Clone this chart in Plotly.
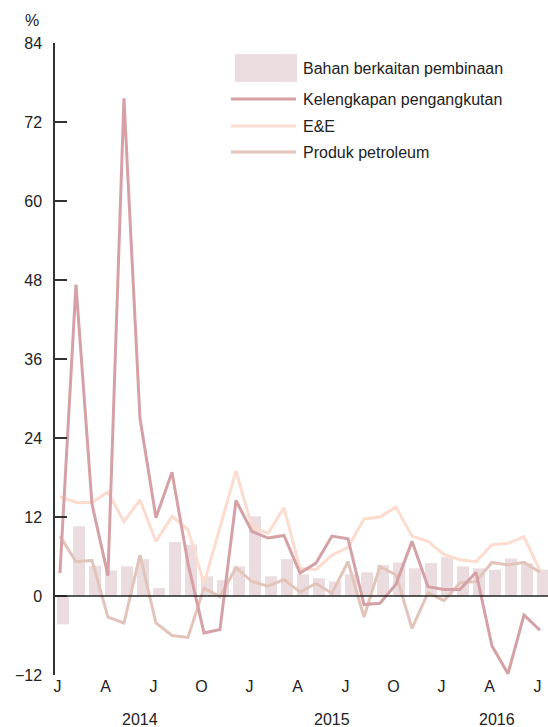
import plotly.graph_objects as go

# Monthly data, Jan 2014 .. Jul 2016 (31 months), % yoy
month_letters = ["J", "A", "J", "O", "J", "A", "J", "O", "J", "A", "J"]
years = ["2014", "2015", "2016"]
series_names = ["Bahan berkaitan pembinaan", "Kelengkapan pengangkutan", "E&E", "Produk petroleum"]

bahan = [-4.3, 10.6, 4.6, 3.9, 4.5, 5.6, 1.2, 8.2, 7.8, 3.0, 2.4, 4.5, 12.1, 3.0, 5.6, 3.3,
         2.7, 2.2, 3.3, 3.6, 4.7, 5.1, 4.2, 5.0, 5.9, 4.5, 4.2, 4.0, 5.7, 5.0, 4.0]
kelengkapan = [3.5, 47.3, 14.0, 3.1, 75.6, 27.0, 11.9, 18.8, 5.0, -5.6, -5.1, 14.5, 9.8, 8.8, 9.2, 3.5,
               5.0, 9.1, 8.7, -1.3, -1.1, 1.8, 8.3, 1.4, 1.0, 1.0, 3.6, -7.6, -11.8, -2.9, -5.2]
ee = [15.1, 14.2, 14.2, 15.8, 11.3, 14.6, 8.3, 12.1, 10.1, 1.9, 10.4, 19.0, 10.5, 9.5, 13.4, 4.2,
      4.0, 6.2, 7.4, 11.7, 12.0, 13.5, 9.1, 8.3, 6.3, 5.5, 5.2, 7.8, 8.0, 9.0, 3.8]
petroleum = [9.1, 5.2, 5.4, -3.2, -4.1, 6.2, -4.1, -6.0, -6.3, 1.2, -0.1, 4.3, 2.2, 1.5, 2.5, 0.6,
             1.9, 0.4, 5.2, -3.2, 4.5, 3.2, -4.9, 0.5, -0.7, 2.0, 2.2, 5.1, 4.7, 5.1, 3.6]

colors = ["#ebdddf", "#d5a1a6", "#fddcd0", "#e2c4ba"]
FONT = "Liberation Sans, Arial, sans-serif"
FS = 16

n = len(bahan)
x = list(range(n))
xbar = [i + 0.19 for i in x]

fig = go.Figure()
fig.add_trace(go.Bar(x=xbar, y=bahan, name=series_names[0], marker_color=colors[0],
                     marker_line_width=0, width=0.75))
for name, vals, col in [(series_names[2], ee, colors[2]),
                        (series_names[3], petroleum, colors[3]),
                        (series_names[1], kelengkapan, colors[1])]:
    fig.add_trace(go.Scatter(x=x, y=vals, name=name, mode="lines",
                             line=dict(color=col, width=3)))

tickvals = [i * 3 - 0.15 for i in range(len(month_letters))]

fig.update_layout(
    width=548, height=727,
    margin=dict(l=55, r=0, t=43, b=52, autoexpand=False),
    paper_bgcolor="white", plot_bgcolor="white",
    showlegend=False,
    font=dict(family=FONT, size=FS, color="#222"),
    xaxis=dict(range=[-0.31, 30.5], tickvals=tickvals, ticktext=month_letters,
               showgrid=False, zeroline=False, showline=False, ticks="",
               automargin=False, tickfont=dict(size=FS)),
    yaxis=dict(range=[-12, 84], tickvals=list(range(-12, 85, 12)),
               showgrid=False, showline=True, linecolor="#333", linewidth=1.5,
               ticks="inside", ticklen=12, tickwidth=1.5, tickcolor="#333",
               zeroline=False,
               automargin=False, ticklabelstandoff=8, tickfont=dict(size=FS)),
)

# zero line above the bars
fig.add_shape(type="line", xref="paper", yref="y", x0=0, x1=1, y0=0, y1=0,
              line=dict(color="#222", width=1.5), layer="above")

# year labels
for yr, xc in zip(years, [5.0, 17.0, 27.3]):
    fig.add_annotation(x=xc, y=0, xref="x", yref="paper", text=yr, showarrow=False,
                       yanchor="top", yshift=-34, font=dict(size=FS))

# unit label
fig.add_annotation(x=-0.047, y=1.0, xref="paper", yref="paper", text="%", showarrow=False,
                   yanchor="bottom", yshift=12, xanchor="center", font=dict(size=FS))

# custom legend
H = 632.0
W = 493.0
def px_x(p):
    return (p - 55) / W
def px_y(p):
    return (675 - p) / H

fig.add_shape(type="rect", xref="paper", yref="paper",
              x0=px_x(235), x1=px_x(297), y0=px_y(82), y1=px_y(54),
              fillcolor=colors[0], line_width=0)
leg_y = [68, 99, 126, 152]
for i, (name, yy) in enumerate(zip(series_names, leg_y)):
    if i > 0:
        fig.add_shape(type="line", xref="paper", yref="paper",
                      x0=px_x(231), x1=px_x(296), y0=px_y(yy), y1=px_y(yy),
                      line=dict(color=colors[i], width=3))
    fig.add_annotation(x=px_x(301), y=px_y(yy), xref="paper", yref="paper", text=name,
                       showarrow=False, xanchor="left", yanchor="middle",
                       font=dict(size=FS))

fig.write_html("out.html", config={"displayModeBar": False},
               post_script="document.body.style.margin='0';document.body.style.overflow='hidden';")
